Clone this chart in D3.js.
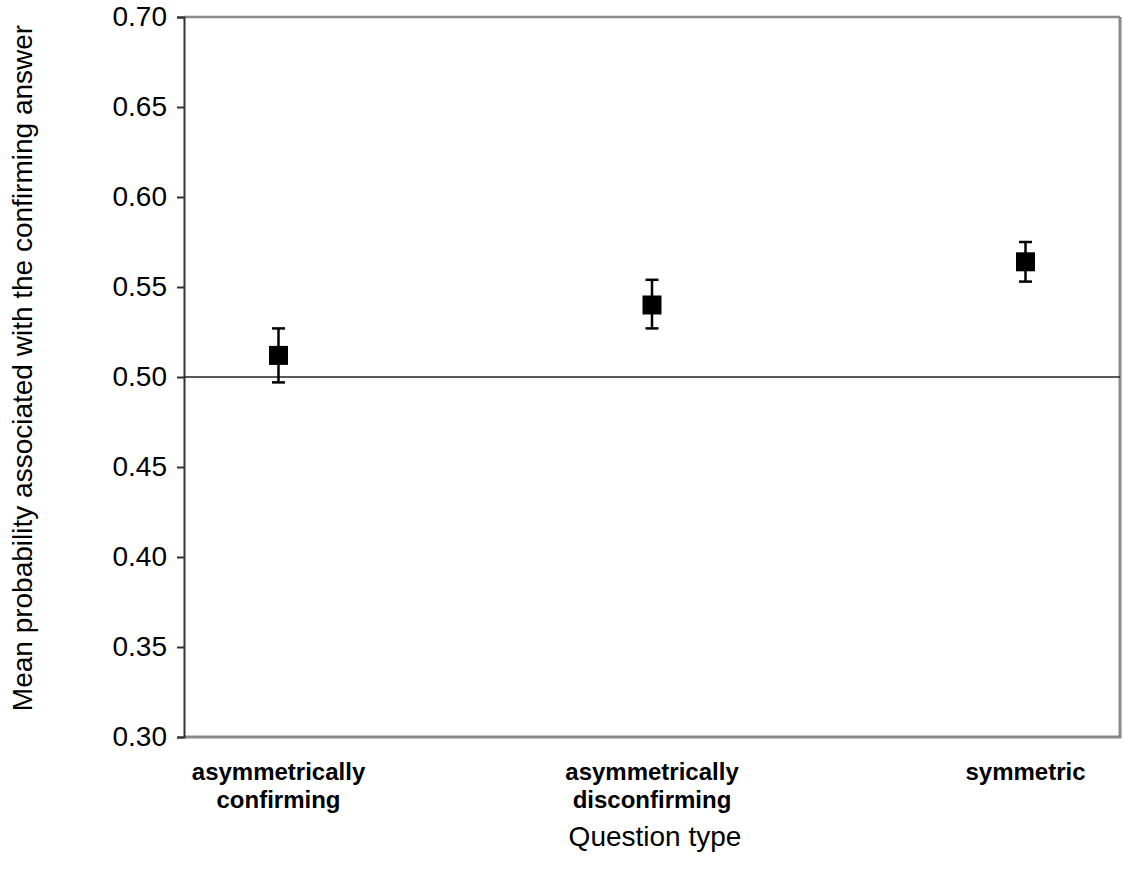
<!DOCTYPE html>
<html>
<head>
<meta charset="utf-8">
<script src="https://cdn.jsdelivr.net/npm/d3@7"></script>
<style>
  html, body { margin: 0; padding: 0; background: #fff; }
  svg { display: block; font-family: "Liberation Sans", Arial, sans-serif; }
</style>
</head>
<body>
<svg id="chart" width="1123" height="870"></svg>
<script>
// ---- data ----
const categories = [["asymmetrically", "confirming"], ["asymmetrically", "disconfirming"], ["symmetric"]];
const categoryKeys = ["asymmetrically confirming", "asymmetrically disconfirming", "symmetric"];
const means = [0.512, 0.540, 0.564];
const upper = [0.527, 0.554, 0.575];
const lower = [0.497, 0.527, 0.553];
const yTicks = [0.30, 0.35, 0.40, 0.45, 0.50, 0.55, 0.60, 0.65, 0.70];
const referenceValue = [0.50];
const xTitle = "Question type";
const yTitle = "Mean probability associated with  the confirming answer";

(function () {
// ---- layout ----
const pLeft = 184, pRight = 1120, pTop = 17, pBottom = 737;
const svg = d3.select("#chart");

const x = d3.scalePoint().domain(categoryKeys).range([pLeft, pRight]).padding(0.253);
const y = d3.scaleLinear().domain([0.30, 0.70]).range([pBottom, pTop]);

// frame (gray top/right/bottom)
svg.append("line").attr("x1", pLeft).attr("x2", pRight).attr("y1", pTop).attr("y2", pTop)
  .attr("stroke", "#8a8a8a").attr("stroke-width", 2.5);
svg.append("line").attr("x1", pRight).attr("x2", pRight).attr("y1", pTop).attr("y2", pBottom)
  .attr("stroke", "#8a8a8a").attr("stroke-width", 3);
svg.append("line").attr("x1", pLeft).attr("x2", pRight + 1.5).attr("y1", pBottom).attr("y2", pBottom)
  .attr("stroke", "#8a8a8a").attr("stroke-width", 3);

// y axis
const yAxis = d3.axisLeft(y).tickValues(yTicks).tickFormat(d3.format(".2f")).tickSize(7).tickPadding(10);
const gy = svg.append("g").attr("transform", `translate(${pLeft},0)`).call(yAxis);
gy.select(".domain").attr("stroke", "#333").attr("stroke-width", 2);
gy.selectAll(".tick line").attr("stroke", "#333").attr("stroke-width", 2);
gy.selectAll(".tick text").attr("font-size", 28).attr("fill", "#000")
  .attr("font-family", "'Liberation Sans', Arial, sans-serif");

// reference line
svg.selectAll(".ref").data(referenceValue).enter().append("line")
  .attr("x1", pLeft).attr("x2", pRight).attr("y1", d => y(d)).attr("y2", d => y(d))
  .attr("stroke", "#222").attr("stroke-width", 1.5);

// x category labels
const xl = svg.selectAll(".xlab").data(categories).enter().append("text")
  .attr("text-anchor", "middle").attr("font-weight", "bold").attr("font-size", 24).attr("fill", "#000")
  .attr("transform", (d, i) => `translate(${x(categoryKeys[i])},0)`);
xl.each(function(d) {
  const t = d3.select(this);
  d.forEach((line, j) => {
    t.append("tspan").attr("x", 0).attr("y", 780 + j * 28).text(line);
  });
});

// error bars
const capW = 13;
const g = svg.append("g");
means.forEach((m, i) => {
  const cx = x(categoryKeys[i]);
  g.append("line").attr("x1", cx).attr("x2", cx).attr("y1", y(upper[i])).attr("y2", y(lower[i]))
    .attr("stroke", "#000").attr("stroke-width", 2.5);
  [upper[i], lower[i]].forEach(v => {
    g.append("line").attr("x1", cx - capW / 2).attr("x2", cx + capW / 2).attr("y1", y(v)).attr("y2", y(v))
      .attr("stroke", "#000").attr("stroke-width", 2.5);
  });
});
// markers
svg.selectAll(".pt").data(means).enter().append("rect")
  .attr("x", (d, i) => x(categoryKeys[i]) - 9.5).attr("y", d => y(d) - 9.5)
  .attr("width", 19).attr("height", 19).attr("fill", "#000");

// titles
svg.append("text").attr("x", 655).attr("y", 846).attr("text-anchor", "middle")
  .attr("font-size", 28).attr("fill", "#000").text(xTitle);
svg.append("text").attr("transform", `translate(32,368) rotate(-90)`)
  .attr("text-anchor", "middle").attr("font-size", 28).attr("fill", "#000").text(yTitle);
})();
</script>
</body>
</html>
